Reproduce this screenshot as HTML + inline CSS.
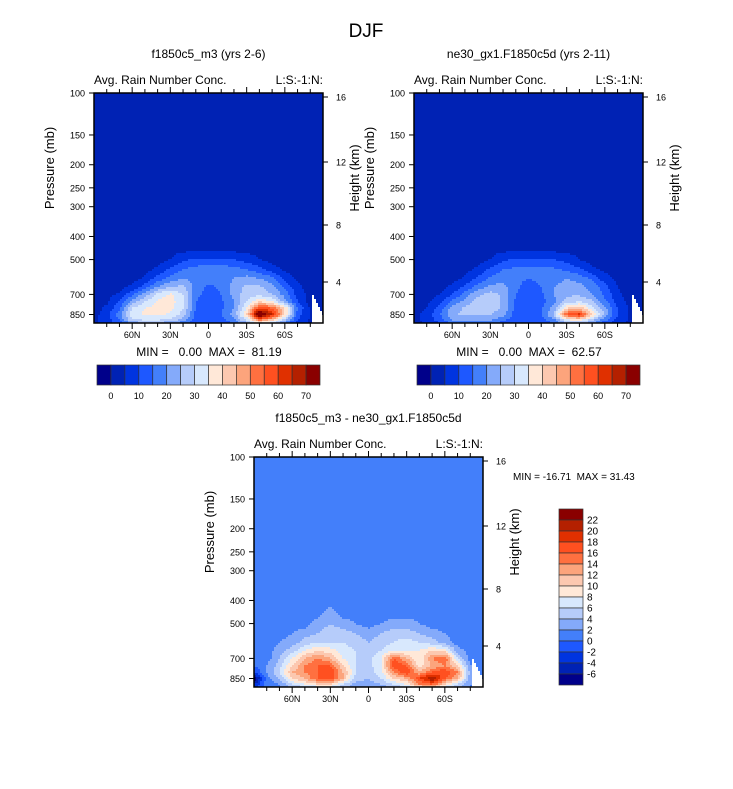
<!DOCTYPE html>
<html><head><meta charset="utf-8">
<style>
body{margin:0;background:#fff;}
svg text{font-family:"Liberation Sans",sans-serif;fill:#000;white-space:pre;}
</style></head>
<body>
<svg id="fig" width="733" height="784" viewBox="0 0 733 784" xmlns="http://www.w3.org/2000/svg">
<text x="366" y="37" font-size="19" text-anchor="middle">DJF</text>
</svg>
<script>
// ---- data ----
const lats = [90,80,70,60,50,40,30,20,10,0,-10,-20,-30,-40,-50,-60,-70,-80,-90];
const levels = [400,450,500,550,600,650,700,750,800,850,900,950];
const field1 = [
[3,3,3,3,3,3,3,3,3,3,3,3,3,3,3,3,3,3,3],
[3,3,3,3,3,3,3,3,3,3,3,3,3,3,3,3,3,3,3],
[3,3,3,3,3,3,5,9,11,11,11,10,8,5,3,3,3,3,3],
[3,3,3,3,3,6,11,15,17,18,18,17,15,12,7,4,3,3,3],
[3,3,3,3,6,12,17,20,18,17,18,20,22,20,17,8,4,3,3],
[3,3,3,6,12,20,25,26,18,14,16,22,26,26,22,14,6,3,3],
[3,3,6,14,22,32,36,30,17,12,15,22,28,28,25,18,8,3,3],
[3,4,10,22,30,36,38,30,15,11,14,20,30,40,35,22,10,3,3],
[3,6,14,30,35,37,37,30,15,12,14,20,35,60,55,40,15,4,3],
[3,8,18,33,36,36,34,28,13,12,15,22,40,80,65,40,12,5,3],
[4,7,15,28,30,30,28,22,12,11,13,18,30,50,40,25,10,4,3],
[4,6,10,15,15,15,15,12,8,8,10,12,15,20,15,10,6,4,3]];
const field2 = [
[3,3,3,3,3,3,3,3,3,3,3,3,3,3,3,3,3,3,3],
[3,3,3,3,3,3,3,3,3,3,3,3,3,3,3,3,3,3,3],
[3,3,3,3,3,3,5,9,11,11,11,10,8,5,3,3,3,3,3],
[3,3,3,3,3,6,11,15,16,17,17,16,14,11,6,4,3,3,3],
[3,3,3,3,6,11,16,18,16,15,16,18,20,18,14,7,4,3,3],
[3,3,3,6,11,17,21,22,16,13,15,20,22,22,18,12,5,3,3],
[3,3,5,10,17,24,27,24,15,12,14,20,24,24,20,14,6,3,3],
[3,4,8,16,22,27,28,24,14,11,13,19,27,30,26,16,8,3,3],
[3,5,12,22,26,28,28,24,14,12,14,22,40,44,32,22,10,4,3],
[3,7,14,24,26,26,25,22,12,12,15,26,55,62,40,24,10,4,3],
[4,6,12,20,22,22,20,16,11,11,13,18,32,36,26,16,8,4,3],
[4,5,8,12,12,12,12,10,8,8,9,11,14,15,12,8,5,4,3]];
const field3 = [
[1,1,1,1,1,1,1,1,1,1,1,1,1,1,1,1,1,1,1],
[1,1,1,1,1,1,3,1,1,1,1,1,1,1,1,1,1,1,1],
[1,1,1,1,1,3,4,3,2,1,2,3,3,2,1,1,1,1,1],
[1,1,1,2,3,4,5,5,4,3,4,5,5,4,3,2,1,1,1],
[1,1,2,3,5,6,6,6,5,4,5,6,7,6,5,3,1,1,1],
[1,1,3,5,8,10,9,7,6,5,6,8,8,8,10,9,3,1,1],
[0,1,4,8,12,14,12,8,6,5,8,16,12,8,14,16,6,1,1],
[0,2,5,10,14,16,16,10,6,5,8,18,16,9,12,14,10,2,1],
[-2,2,6,12,14,16,18,12,6,5,7,14,18,12,16,18,14,3,1],
[-8,1,4,10,12,16,18,12,5,4,6,10,12,18,22,16,12,3,1],
[-4,1,2,6,8,10,10,6,3,3,4,6,8,14,16,10,6,2,1],
[-2,0,1,2,3,4,4,3,2,2,2,3,4,6,6,4,2,1,1]];
const palette = ["#00008a","#0022b4","#0034e0","#1e58ff","#437ffa","#84aafa","#b6ccfa","#d8e8fd","#ffe8d8","#fcc8b0","#fca47c","#ff7040","#ff5020","#e03000","#b42000","#8a0000"];
const cbLabels1 = ["0","10","20","30","40","50","60","70"];
const cbLabels3 = ["22","20","18","16","14","12","10","8","6","4","2","0","-2","-4","-6"];
const pTicks = [100,150,200,250,300,400,500,700,850];
const zTicks = [16,12,8,4];
const zOffsets = [4,69,132,189];
const latTicks = [60,30,0,-30,-60];
const latLabels = ["60N","30N","0","30S","60S"];

const NS="http://www.w3.org/2000/svg";
const svg=document.getElementById('fig');
function mk(tag,attrs,parent){const e=document.createElementNS(NS,tag);for(const k in attrs)e.setAttribute(k,attrs[k]);(parent||svg).appendChild(e);return e;}
function txt(s,x,y,size,anchor,parent){const t=mk('text',{x:x,y:y,'font-size':size,'text-anchor':anchor||'start'},parent);t.textContent=s;return t;}

function sample(f,lat,p){
  let li=(90-lat)/10; li=Math.max(0,Math.min(17.999,li));
  const i0=Math.floor(li),fx=li-i0;
  const lp=Math.log(p);
  let r=0;
  if(p<=levels[0]) return f[0][i0]*(1-fx)+f[0][i0+1]*fx;
  if(p>=levels[levels.length-1]){r=levels.length-2;}
  else{while(levels[r+1]<p)r++;}
  let fy=(lp-Math.log(levels[r]))/(Math.log(levels[r+1])-Math.log(levels[r]));
  fy=Math.max(0,Math.min(1,fy));
  const a=f[r][i0]*(1-fx)+f[r][i0+1]*fx, b=f[r+1][i0]*(1-fx)+f[r+1][i0+1]*fx;
  return a*(1-fy)+b*fy;
}

function panel(name,L,T,f,idxFn,title){
  const W=229,H=230,K=103.5;
  const g=mk('g',{});
  
  
  const yOf=p=>T+K*Math.log(p/100);
  const xOf=lat=>L+(90-lat)/180*W;
  const cell=2;
  for(let y=T;y<T+H;y+=cell){
    const p=100*Math.exp((y+cell/2-T)/K);
    let runStart=L,runCol=null;
    for(let x=L;x<L+W+cell;x+=cell){
      let col=null;
      if(x<L+W){
        const lat=90-(x+cell/2-L)/W*180;
        if(lat<-82 && p>700-(lat+82)*20) col="#ffffff";
        else col=palette[idxFn(sample(f,lat,p))];
      }
      if(col!==runCol){
        if(runCol){const r=mk('rect',{x:runStart,y:y,width:Math.min(x,L+W)-runStart+0.5,height:Math.min(cell+0.5,T+H-y),fill:runCol},g);
          
          }
        runStart=x;runCol=col;
      }
    }
  }
  const fr=mk('rect',{x:L,y:T,width:W,height:H,fill:'none',stroke:'#000','stroke-width':1.5},g);
  
  
  pTicks.forEach(p=>{const y=yOf(p);mk('line',{x1:L-5,y1:y,x2:L,y2:y,stroke:'#000'},g);txt(String(p),L-9,y+3.5,9,'end',g);});
  zTicks.forEach((z,i)=>{const y=T+zOffsets[i];mk('line',{x1:L+W,y1:y,x2:L+W+5,y2:y,stroke:'#000'},g);txt(String(z),L+W+13,y+3.5,9,'start',g);});
  for(let lat=80;lat>=-80;lat-=10){const x=xOf(lat);const len=(lat%30===0)?6:4;
    mk('line',{x1:x,y1:T+H,x2:x,y2:T+H+len,stroke:'#000'},g);mk('line',{x1:x,y1:T,x2:x,y2:T-len,stroke:'#000'},g);}
  latTicks.forEach((lat,i)=>txt(latLabels[i],xOf(lat),T+H+15,9,'middle',g));
  txt(title,L+W/2,T-35,12,'middle',g);
  txt("Avg. Rain Number Conc.",L,T-9,12,'start',g);
  txt("L:S:-1:N:",L+W,T-9,12,'end',g);
  const yl=txt("Pressure (mb)",0,0,13,'middle',g);yl.setAttribute('transform',`translate(${L-40},${T+75}) rotate(-90)`);
  const hl=txt("Height (km)",0,0,13,'middle',g);hl.setAttribute('transform',`translate(${L+W+36},${T+85}) rotate(-90)`);
}
const idxTop=v=>Math.max(0,Math.min(15,Math.floor(v/5)+1));
const idxDiff=v=>Math.max(0,Math.min(15,Math.floor((v+6)/2)+1));
panel('panel-f1850c5-m3',94,93,field1,idxTop,"f1850c5_m3 (yrs 2-6)");
panel('panel-ne30',414,93,field2,idxTop,"ne30_gx1.F1850c5d (yrs 2-11)");
panel('panel-difference',254,457,field3,idxDiff,"f1850c5_m3 - ne30_gx1.F1850c5d");

txt("MIN =   0.00  MAX =  81.19",209,356,12,'middle');
txt("MIN =   0.00  MAX =  62.57",529,356,12,'middle');
txt("MIN = -16.71  MAX = 31.43",513,480,10,'start');

function hbar(L,name){
  const g=mk('g',{});
  const bw=(320-97)/16;
  palette.forEach((c,i)=>{const r=mk('rect',{x:L+i*bw,y:365,width:bw,height:20,fill:c,stroke:'#333','stroke-width':0.7},g);
    });
  cbLabels1.forEach((s,i)=>txt(s,L+bw*(1+2*i),399,9,'middle',g));
}
hbar(97,'colorbar-left');
hbar(417,'colorbar-right');
(function(){
  const g=mk('g',{});
  const bh=176/16;
  for(let i=0;i<16;i++){const r=mk('rect',{x:559,y:509+i*bh,width:24,height:bh,fill:palette[15-i],stroke:'#333','stroke-width':0.7},g);
    }
  cbLabels3.forEach((s,i)=>txt(s,587,509+bh*(i+1)+3.5,10,'start',g));
})();
</script>
</body></html>
